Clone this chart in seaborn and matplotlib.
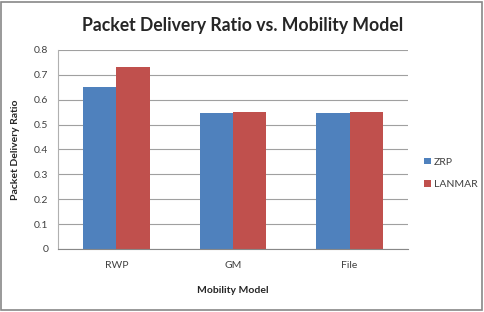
import matplotlib
matplotlib.use("Agg")
import matplotlib.pyplot as plt
import seaborn as sns
import pandas as pd
from matplotlib.patches import Rectangle

categories = ["RWP", "GM", "File"]
series = ["ZRP", "LANMAR"]
zrp = [0.65, 0.545, 0.545]
lanmar = [0.73, 0.55, 0.55]
yticks = [0, 0.1, 0.2, 0.3, 0.4, 0.5, 0.6, 0.7, 0.8]

df = pd.DataFrame({
    "Model": categories * 2,
    "Protocol": ["ZRP"] * 3 + ["LANMAR"] * 3,
    "Value": zrp + lanmar,
})

sns.set_style("white")
plt.rcParams['font.family'] = ['Lato', 'DejaVu Sans']

fig = plt.figure(figsize=(4.85, 3.12), dpi=100)
ax = fig.add_axes([0.12, 0.202, 0.721, 0.638])

sns.barplot(data=df, x="Model", y="Value", hue="Protocol", hue_order=series,
            palette=["#4F81BD", "#C0504D"], width=0.57, saturation=1,
            linewidth=0, ax=ax, legend=True)

ax.set_ylim(0, 0.8)
ax.set_yticks(yticks)
ax.set_yticklabels([f"{t:g}" for t in yticks], fontsize=7.5, color="#404040")
ax.tick_params(axis="x", labelsize=7.5, colors="#404040", length=0, pad=9)
ax.tick_params(axis="y", length=0, pad=7)
ax.yaxis.grid(True, color="#A0A0A0", linewidth=0.8)
ax.set_axisbelow(True)
for s in ["top", "right"]:
    ax.spines[s].set_visible(False)
ax.spines["left"].set_color("#B0B0B0")
ax.spines["bottom"].set_color("#888888")
ax.set_xlim(-0.5, 2.5)

ax.set_xlabel("Mobility Model", fontsize=7.5, fontweight="bold", labelpad=11)
ax.set_ylabel("Packet Delivery Ratio", fontsize=7.5, fontweight="bold", labelpad=10)

fig.suptitle("Packet Delivery Ratio vs. Mobility Model", fontsize=12.7,
             fontweight="bold", x=0.5, y=0.945)

leg = ax.legend(loc="center left", bbox_to_anchor=(1.02, 0.38), frameon=False,
                fontsize=7.5, handlelength=0.6, handleheight=0.6, handletextpad=0.3,
                labelspacing=1.3)
for t in leg.get_texts():
    t.set_color("#404040")

fig.patches.append(Rectangle((0.003, 0.005), 0.99, 0.99, transform=fig.transFigure,
                             fill=False, edgecolor="#888888", linewidth=1.2))

fig.savefig("out.png", dpi=100)
